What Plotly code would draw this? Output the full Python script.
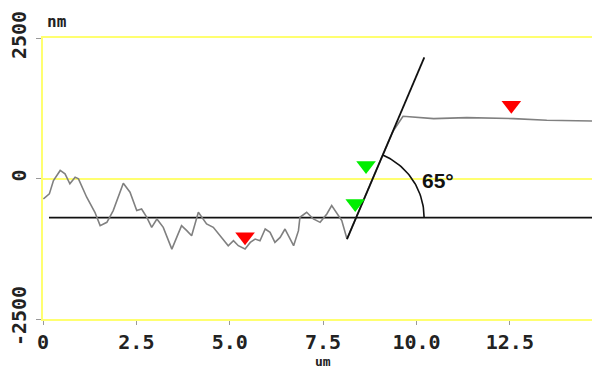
import plotly.graph_objects as go
import math

# profile (x in um, z in nm)
prof_x = [0.01, 0.17, 0.28, 0.46, 0.59, 0.72, 0.86, 0.95, 1.17, 1.39, 1.53, 1.71, 1.88, 2.15, 2.33, 2.51,
          2.64, 2.78, 2.91, 3.05, 3.22, 3.45, 3.58, 3.71, 3.85, 3.98, 4.16, 4.38, 4.56, 4.74, 4.96, 5.10,
          5.23, 5.41, 5.55, 5.68, 5.81, 5.95, 6.08, 6.21, 6.35, 6.48, 6.62, 6.71, 6.84, 6.88, 7.06, 7.24,
          7.42, 7.60, 7.73, 7.87, 8.00, 8.14, 8.40, 8.67, 9.03, 9.38, 9.64, 10.46, 11.35, 12.60, 13.49, 14.70]
prof_z = [-363, -274, -36, 143, 83, -95, 24, -6, -333, -601, -839, -780, -571, -83, -244, -571,
          -542, -690, -869, -720, -869, -1256, -1048, -839, -928, -1018, -601, -809, -869, -1018, -1196, -1107,
          -1196, -1256, -1137, -1077, -1107, -899, -958, -1137, -1048, -899, -1077, -1196, -928, -690, -601, -720,
          -780, -631, -482, -631, -750, -1077, -665, -235, 315, 850, 1107, 1066, 1084, 1066, 1036, 1024]

base_x = [0.16, 14.7]
base_z = [-696, -696]
slope_x = [8.14, 10.21]
slope_z = [-1077, 2156]

red_x = [5.41, 12.54]
red_z = [-1036, 1304]
green_x = [8.65, 8.36]
green_z = [232, -446]

angle_label = "65°"
x_ticks = [0, 2.5, 5.0, 7.5, 10.0, 12.5]
x_ticktext = ["0", "2.5", "5.0", "7.5", "10.0", "12.5"]
y_ticks = [-2500, 0, 2500]
y_ticktext = ["-2500", "0", "2500"]

X_RANGE = [0, 14.7]
Y_RANGE = [-2500, 2500]
L, R, T, B = 43, 0, 38, 50
W, H = 592, 369
pxx = (W - L - R) / (X_RANGE[1] - X_RANGE[0])
pxy = (H - T - B) / (Y_RANGE[1] - Y_RANGE[0])

# angle arc centred on intersection of slope line with baseline
sl = (slope_z[1] - slope_z[0]) / (slope_x[1] - slope_x[0])
cx = slope_x[0] + (base_z[0] - slope_z[0]) / sl
cy = base_z[0]
ang = math.atan2((slope_z[1] - slope_z[0]) * pxy, (slope_x[1] - slope_x[0]) * pxx)
rad = 68
arc_x, arc_z = [], []
for i in range(41):
    t = ang * i / 40
    arc_x.append(cx + rad * math.cos(t) / pxx)
    arc_z.append(cy + rad * math.sin(t) / pxy)

fig = go.Figure()
fig.add_trace(go.Scatter(x=base_x, y=base_z, mode="lines", line=dict(color="#111", width=1.8)))
fig.add_trace(go.Scatter(x=prof_x, y=prof_z, mode="lines", line=dict(color="#808080", width=1.6)))
fig.add_trace(go.Scatter(x=slope_x, y=slope_z, mode="lines", line=dict(color="#111", width=1.8)))
fig.add_trace(go.Scatter(x=arc_x, y=arc_z, mode="lines", line=dict(color="#111", width=1.6)))
fig.add_trace(go.Scatter(x=red_x, y=red_z, mode="markers",
                         marker=dict(symbol="triangle-down", size=17, color="#ff0000", line=dict(width=0))))
fig.add_trace(go.Scatter(x=green_x, y=green_z, mode="markers",
                         marker=dict(symbol="triangle-down", size=17, color="#00ee00", line=dict(width=0))))

tickfont = dict(family="DejaVu Sans Mono", size=20, color="#222", weight="bold")
unitfont = dict(family="DejaVu Sans Mono", size=16, color="#222", weight="bold")
xunitfont = dict(family="DejaVu Sans Mono", size=13, color="#222", weight="bold")

fig.add_annotation(x=10.58, y=-36, text=angle_label, showarrow=False,
                   font=dict(family="Liberation Sans", size=21, color="#111", weight="bold"))
fig.add_annotation(x=(57 - L) / (W - L - R), y=1 + (T - 21) / (H - T - B), xref="paper", yref="paper",
                   xanchor="center", yanchor="middle", text="nm", showarrow=False, font=unitfont)
fig.add_annotation(x=(323 - L) / (W - L - R), y=-(361 - (H - B)) / (H - T - B), xref="paper", yref="paper",
                   xanchor="center", yanchor="middle", text="um", showarrow=False, font=xunitfont)

yellow = "#ffff70"
fig.update_layout(
    width=W, height=H, margin=dict(l=L, r=R, t=T, b=B, autoexpand=False),
    paper_bgcolor="white", plot_bgcolor="white", showlegend=False,
    xaxis=dict(range=X_RANGE, tickvals=x_ticks, ticktext=x_ticktext, showgrid=False, zeroline=False,
               showline=True, linecolor=yellow, linewidth=2, mirror=True, automargin=False,
               ticks="outside", ticklen=4, tickcolor="#999", tickwidth=1,
               tickfont=tickfont, ticklabelstandoff=0),
    yaxis=dict(range=Y_RANGE, tickvals=y_ticks, ticktext=y_ticktext, showgrid=True, gridcolor=yellow,
               gridwidth=2, zeroline=False, showline=True, linecolor=yellow, linewidth=2, automargin=False,
               ticks="outside", ticklen=5, tickcolor="#999", tickwidth=1, tickangle=-90,
               tickfont=tickfont, ticklabelstandoff=2),
)
fig.write_html("out.html", config={"displayModeBar": False},
               post_script="document.body.style.margin='0';document.body.style.overflow='hidden';")
